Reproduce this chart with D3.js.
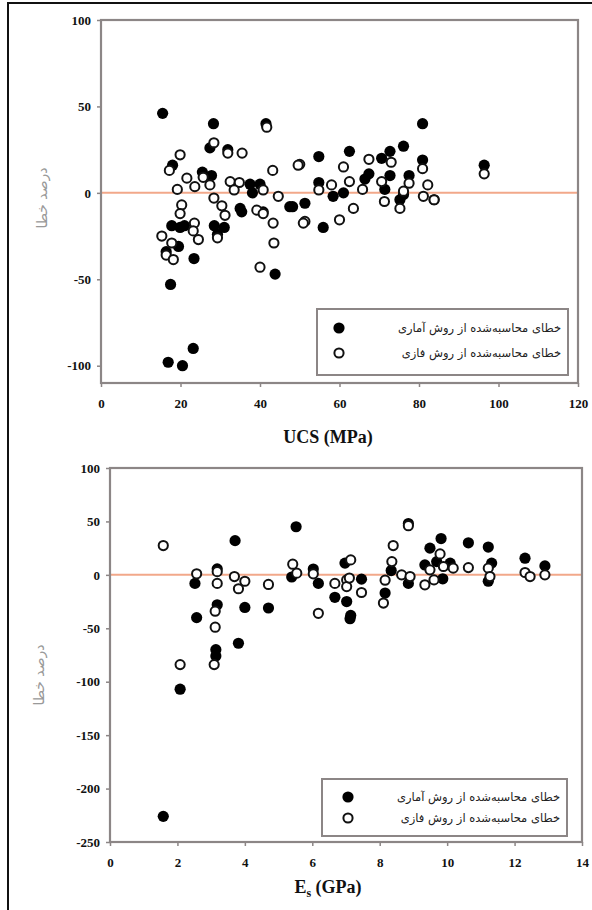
<!DOCTYPE html>
<html>
<head>
<meta charset="utf-8">
<script src="https://cdn.jsdelivr.net/npm/d3@7"></script>
<style>
  html, body { margin: 0; padding: 0; background: #fff; }
  svg { display: block; }
  .tick text { font-family: 'Liberation Serif', 'DejaVu Serif', serif; font-weight: 700; font-size: 13px; fill: #111; }
</style>
</head>
<body>
<script>
// Error (%) of UCS predictions: statistical method (filled) and fuzzy method (open)
const ucsStatistical = [
  [15.5,46],[28.3,40],[41.5,40],[27.4,26],[31.9,25],[18.0,16],[25.5,12],[27.8,10],
  [37.5,5],[40,5],[38.1,0],[47.5,-8],[35,-9],[35.4,-11],[40.8,-11],[17.8,-19],
  [19.9,-20],[21,-19],[28.5,-19],[31,-20],[29.3,-24],[19.5,-31],[16.4,-34],[23.4,-38],
  [43.8,-47],[17.5,-53],[16.9,-98],[20.5,-100],[23.2,-90],[80.9,40],[76.1,27],[72.7,24],
  [70.6,20],[62.5,24],[54.8,21],[80.9,19],[96.4,16],[67.4,11],[66.4,8],[72.7,10],
  [77.5,10],[54.8,6],[61,0],[58.4,-2],[71.4,2],[83.8,-4],[76.1,-1],[75.2,-4],
  [55.9,-20],[51.3,-6],[48.2,-8]
];
const ucsFuzzy = [
  [41.7,38],[28.4,29],[31.9,23],[35.5,23],[19.9,22],[17.2,13],[43.2,13],[21.6,8.5],
  [25.7,9],[19.2,2],[23.6,3.6],[27.4,4.6],[32.5,6.5],[34.8,6],[33.5,1.7],[40.8,1.7],
  [44.6,-2],[28.4,-3],[30.4,-7.5],[39.2,-10],[20.3,-7],[19.9,-12],[31.2,-13],[43.3,-17.5],
  [23.5,-17.5],[29.3,-26],[23.2,-22],[24.5,-27],[15.3,-25],[17.8,-29],[16.4,-36],[18.2,-38.6],
  [43.5,-29],[40,-43],[50,16.5],[61,15],[67.4,19.4],[73,17.7],[80.9,14],[96.4,11],
  [77.5,5.6],[70.6,6.5],[62.5,6.5],[54.8,1.7],[58,4.6],[65.8,2],[82.2,4.6],[81.1,-2],
  [83.8,-4],[76.1,1],[75.2,-9],[71.3,-5],[63.5,-9],[60,-15.6],[51.3,-16.5],[50.9,-17.5],
  [49.6,16],[40.8,-12]
];

// Error (%) of Es predictions
const esStatistical = [
  [1.58,-226],[2.08,-107],[2.52,-8],[2.57,-40],[3.18,5.6],[3.18,-28],[3.14,-70],[3.14,-76],
  [3.71,32],[3.81,-64],[4.0,-30.5],[4.70,-31],[5.52,45],[5.39,-2],[6.03,5.5],[6.18,-8],
  [6.97,11],[7.46,-4],[6.67,-21],[7.02,-25],[7.14,-38],[7.12,-41],[8.34,4],[8.16,-17],
  [8.85,48],[9.82,34],[10.63,30],[11.22,26],[12.31,15.6],[12.90,8.4],[9.49,25],[9.34,9.3],
  [9.69,12.4],[10.09,11],[9.87,-3.7],[11.32,11],[11.22,-6],[8.85,-8]
];
const esFuzzy = [
  [1.58,27.4],[2.08,-84],[2.57,1],[3.18,3],[3.18,-8],[3.69,-1.6],[4.0,-6],[3.81,-13],
  [4.70,-9],[3.12,-34],[3.12,-49],[3.09,-84],[5.42,10],[5.54,1.6],[6.03,1],[6.18,-36],
  [7.14,14],[6.67,-8],[7.02,-4.7],[7.02,-11],[7.46,-16.5],[8.40,27.4],[8.36,12.4],[8.16,-5],
  [8.11,-26.4],[8.85,46],[9.79,19.6],[9.49,4.7],[10.18,6.3],[9.89,7.8],[9.34,-9.3],[9.61,-4.7],
  [10.63,6.8],[11.22,6.3],[11.27,-1.6],[12.31,2.2],[12.46,-1.6],[12.90,0],[8.65,0],[8.90,-1.6],
  [7.10,-3]
];

const ucsXTicks = [0, 20, 40, 60, 80, 100, 120];
const ucsYTicks = [-100, -50, 0, 50, 100];
const esXTicks = [0, 2, 4, 6, 8, 10, 12, 14];
const esYTicks = [-250, -200, -150, -100, -50, 0, 50, 100];

const yTitle = "درصد خطا";
const legendLabels = ["خطای محاسبه‌شده از روش آماری", "خطای محاسبه‌شده از روش فازی"];

const W = 592, H = 910;
const svg = d3.select("body").append("svg").attr("width", W).attr("height", H);

// outer frame
svg.append("rect").attr("x", 8).attr("y", 3).attr("width", 700).attr("height", 1000)
  .attr("fill", "none").attr("stroke", "#111").attr("stroke-width", 2);

const AXIS = "#8c8686";
const ZERO = "#f2a88a";
const plainInt = d => String(d);   // ASCII hyphen for negatives

function panel(cfg) {
  const x = d3.scaleLinear().domain(cfg.xDomain).range([cfg.left, cfg.right]);
  const y = d3.scaleLinear().domain(cfg.yDomain).range([cfg.bottom, cfg.top]);
  const g = svg.append("g");

  // zero-error reference line
  g.append("line")
    .attr("x1", cfg.left).attr("x2", cfg.right)
    .attr("y1", y(0)).attr("y2", y(0))
    .attr("stroke", ZERO).attr("stroke-width", 2);

  // axes
  const axL = g.append("g").attr("transform", `translate(${cfg.left},0)`)
    .call(d3.axisLeft(y).tickValues(cfg.yTicks).tickSize(4).tickPadding(6).tickFormat(plainInt));
  const axB = g.append("g").attr("transform", `translate(0,${cfg.bottom})`)
    .call(d3.axisBottom(x).tickValues(cfg.xTicks).tickSize(4).tickPadding(12).tickFormat(plainInt));
  [axL, axB].forEach(a => {
    a.attr("font-family", null).attr("font-size", null);
    a.select(".domain").remove();
    a.selectAll(".tick line").attr("stroke", AXIS).attr("stroke-width", 1.5);
  });

  // plot frame
  g.append("rect")
    .attr("x", cfg.left).attr("y", cfg.top)
    .attr("width", cfg.right - cfg.left).attr("height", cfg.bottom - cfg.top)
    .attr("fill", "none").attr("stroke", AXIS).attr("stroke-width", 2.2);

  // points
  g.append("g").selectAll("circle").data(cfg.filled).join("circle")
    .attr("cx", d => x(d[0])).attr("cy", d => y(d[1])).attr("r", 5.6)
    .attr("fill", "#000");
  g.append("g").selectAll("circle").data(cfg.open).join("circle")
    .attr("cx", d => x(d[0])).attr("cy", d => y(d[1])).attr("r", 4.6)
    .attr("fill", "#fff").attr("stroke", "#111").attr("stroke-width", 2);

  // y-axis title
  g.append("text")
    .attr("transform", `translate(${cfg.yTitleX},${cfg.yTitleY}) rotate(-90)`)
    .attr("text-anchor", "middle")
    .attr("font-family", "'DejaVu Sans', sans-serif").attr("font-size", 14)
    .attr("fill", "#999").text(yTitle);

  // x-axis title
  const xt = g.append("text")
    .attr("x", cfg.xTitleX).attr("y", cfg.xTitleY).attr("text-anchor", "middle")
    .style("font-family", "'Liberation Serif', serif").style("font-weight", "700")
    .style("font-size", "18px").attr("fill", "#111");
  cfg.xTitle(xt);

  // legend
  const L = cfg.legend;
  g.append("rect").attr("x", L.x).attr("y", L.y).attr("width", L.w).attr("height", L.h)
    .attr("fill", "#fff").attr("stroke", AXIS).attr("stroke-width", 2);
  legendLabels.forEach((lab, i) => {
    const cy = L.y + L.row0 + i * L.dy;
    const c = g.append("circle").attr("cx", L.mx).attr("cy", cy);
    if (i === 0) c.attr("r", 5.6).attr("fill", "#000");
    else c.attr("r", 4.6).attr("fill", "#fff").attr("stroke", "#111").attr("stroke-width", 2);
    g.append("text").attr("x", L.x + L.w - 7).attr("y", cy + 4)
      .attr("text-anchor", "start").attr("direction", "rtl")
      .attr("font-family", "'DejaVu Sans', sans-serif").attr("font-size", 11.5)
      .attr("fill", "#222").text(lab);
  });
}

panel({
  xDomain: [0, 120], yDomain: [-110, 100],
  left: 101, right: 578, top: 20, bottom: 383,
  xTicks: ucsXTicks, yTicks: ucsYTicks,
  filled: ucsStatistical, open: ucsFuzzy,
  yTitleX: 47, yTitleY: 198,
  xTitleX: 328, xTitleY: 443,
  xTitle: t => t.text("UCS (MPa)"),
  legend: { x: 317, y: 309, w: 251, h: 66, mx: 339, row0: 19, dy: 25 }
});

panel({
  xDomain: [0, 14], yDomain: [-250, 100],
  left: 110, right: 582, top: 468, bottom: 842,
  xTicks: esXTicks, yTicks: esYTicks,
  filled: esStatistical, open: esFuzzy,
  yTitleX: 44, yTitleY: 675,
  xTitleX: 328, xTitleY: 893,
  xTitle: t => {
    t.append("tspan").text("E");
    t.append("tspan").style("font-size", "12px").attr("dy", 4).text("s");
    t.append("tspan").attr("dy", -4).text(" (GPa)");
  },
  legend: { x: 322, y: 779, w: 245, h: 57, mx: 348, row0: 18, dy: 21 }
});
</script>
</body>
</html>
